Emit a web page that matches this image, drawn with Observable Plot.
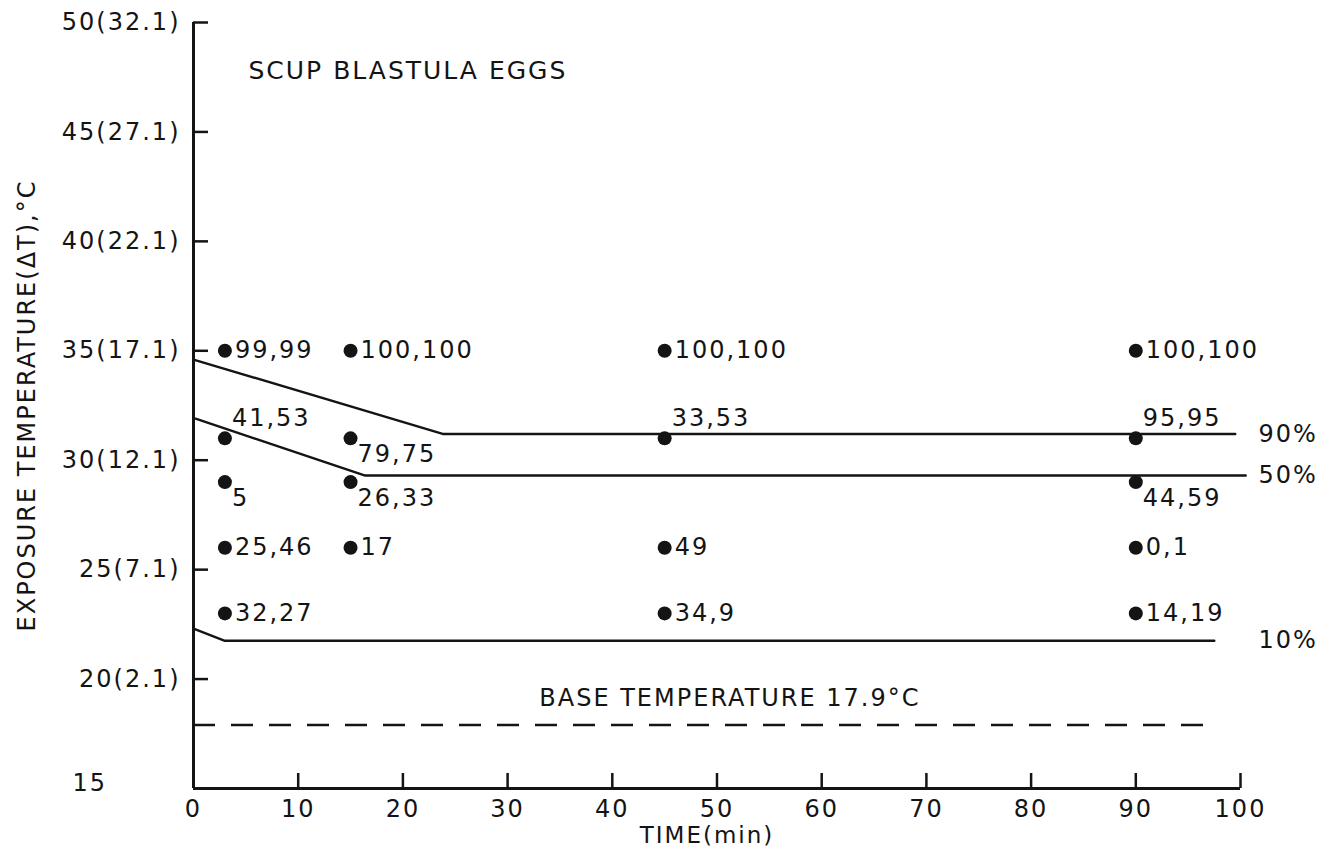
<!DOCTYPE html>
<html>
<head>
<meta charset="utf-8">
<script src="https://cdn.jsdelivr.net/npm/d3@7"></script>
<script src="https://cdn.jsdelivr.net/npm/@observablehq/plot@0.6"></script>
<style>
  html, body { margin: 0; padding: 0; background: #fff; }
  #chart { width: 1329px; height: 862px; }
</style>
</head>
<body>
<div id="chart"></div>
<script>
// Exposure time (min) and exposure temperature (°C) of each test group,
// with the percent mortality of the replicate lots beside each point.
const times = [3, 3, 3, 3, 3, 15, 15, 15, 15, 45, 45, 45, 45, 90, 90, 90, 90, 90];
const temps = [35, 31, 29, 26, 23, 35, 31, 29, 26, 35, 31, 26, 23, 35, 31, 29, 26, 23];
const mortality = ["99,99", "41,53", "5", "25,46", "32,27",
                   "100,100", "79,75", "26,33", "17",
                   "100,100", "33,53", "49", "34,9",
                   "100,100", "95,95", "44,59", "0,1", "14,19"];

// Mortality isopleths (time, temperature vertices)
const levels = ["90%", "50%", "10%"];
const curve90Time = [0, 23.8, 99.5];
const curve90Temp = [34.6, 31.2, 31.2];
const curve50Time = [0.2, 16.4, 100.5];
const curve50Temp = [31.9, 29.3, 29.3];
const curve10Time = [0, 3, 97.5];
const curve10Temp = [22.3, 21.75, 21.75];

// Base (ambient) temperature
const baseTemp = 17.9;
const baseLineSpan = [0, 97.5];
const baseLabel = "BASE TEMPERATURE 17.9°C";

// Axes
const xDomain = [0, 100];
const yDomain = [15, 50];
const xTicks = [0, 10, 20, 30, 40, 50, 60, 70, 80, 90, 100];
const yTicks = [20, 25, 30, 35, 40, 45, 50];
const yTickText = ["20(2.1)", "25(7.1)", "30(12.1)", "35(17.1)", "40(22.1)", "45(27.1)", "50(32.1)"];
const yFloorLabel = "15";
const xTitle = "TIME(min)";
const yTitle = "EXPOSURE TEMPERATURE(ΔT),°C";
const chartTitle = "SCUP BLASTULA EGGS";

// Tables built from the arrays above
const points = times.map((t, i) => ({time: t, temp: temps[i], label: mortality[i]}));
const curveTimes = [curve90Time, curve50Time, curve10Time];
const curveTemps = [curve90Temp, curve50Temp, curve10Temp];
const curves = levels.flatMap((lv, k) =>
  curveTimes[k].map((t, i) => ({level: lv, time: t, temp: curveTemps[k][i]})));
const curveEnds = levels.map((lv, k) => ({level: lv, temp: curveTemps[k][curveTemps[k].length - 1]}));

// Where each mortality label sits relative to its dot
const labelAbove = new Set(["41,53", "33,53", "95,95"]);
const labelBelow = new Set(["79,75", "5", "26,33", "44,59"]);
const placement = d => labelAbove.has(d.label) ? "above" : labelBelow.has(d.label) ? "below" : "right";

const ink = "#141414";

const chart = Plot.plot({
  width: 1329,
  height: 862,
  marginLeft: 193,
  marginRight: 89,
  marginTop: 22,
  marginBottom: 74,
  x: {domain: xDomain},
  y: {domain: yDomain},
  style: {
    fontFamily: "'DejaVu Sans', sans-serif",
    fontSize: "24px",
    letterSpacing: "2px",
    color: ink,
    background: "#fff",
    overflow: "visible"
  },
  marks: [
    // tick labels
    Plot.axisX(xTicks, {tickSize: 0, tickPadding: 11, label: null, fontSize: 24}),
    Plot.axisY(yTicks, {tickSize: 0, tickPadding: 13, label: null, fontSize: 24,
      tickFormat: d => yTickText[yTicks.indexOf(d)]}),
    Plot.text([yFloorLabel], {x: () => xDomain[0], y: () => yDomain[0],
      dx: -121, dy: -5, textAnchor: "start", fontSize: 24}),
    // inward tick marks
    Plot.tickX(xTicks.slice(1), {x: d => d, insetTop: 751, stroke: ink, strokeWidth: 2.5}),
    Plot.tickY(yTicks, {y: d => d, insetRight: 1032, stroke: ink, strokeWidth: 2.5}),
    // axis lines
    Plot.ruleX([xDomain[0]], {stroke: ink, strokeWidth: 3}),
    Plot.ruleY([yDomain[0]], {stroke: ink, strokeWidth: 3}),
    // axis titles
    Plot.text([xTitle], {frameAnchor: "bottom", dx: -10, dy: 47, lineAnchor: "middle", fontSize: 23}),
    Plot.text([yTitle], {frameAnchor: "left", rotate: -90, dx: -166, textAnchor: "middle",
      lineAnchor: "middle", fontSize: 24}),
    // chart title
    Plot.text([chartTitle], {frameAnchor: "top-left", dx: 55, dy: 48, textAnchor: "start",
      lineAnchor: "middle", fontSize: 25}),
    // base temperature
    Plot.ruleY([baseTemp], {x1: baseLineSpan[0], x2: baseLineSpan[1], stroke: ink,
      strokeWidth: 2.5, strokeDasharray: "22,16"}),
    Plot.text([baseLabel], {x: () => d3.mean(baseLineSpan), y: () => baseTemp, dx: 26, dy: -27,
      lineAnchor: "middle", fontSize: 24}),
    // mortality isopleths
    Plot.line(curves, {x: "time", y: "temp", z: "level", stroke: ink, strokeWidth: 2.4}),
    Plot.text(curveEnds, {x: () => xDomain[1], y: "temp", text: "level", dx: 18,
      textAnchor: "start", lineAnchor: "middle", fontSize: 24}),
    // test groups
    Plot.dot(points, {x: "time", y: "temp", r: 7, fill: ink, stroke: null}),
    Plot.text(points.filter(d => placement(d) === "right"), {x: "time", y: "temp", text: "label",
      dx: 10, textAnchor: "start", lineAnchor: "middle", fontSize: 24}),
    Plot.text(points.filter(d => placement(d) === "above"), {x: "time", y: "temp", text: "label",
      dx: 7, dy: -20, textAnchor: "start", lineAnchor: "middle", fontSize: 24}),
    Plot.text(points.filter(d => placement(d) === "below"), {x: "time", y: "temp", text: "label",
      dx: 7, dy: 16, textAnchor: "start", lineAnchor: "middle", fontSize: 24})
  ]
});

document.getElementById("chart").appendChild(chart);
</script>
</body>
</html>
